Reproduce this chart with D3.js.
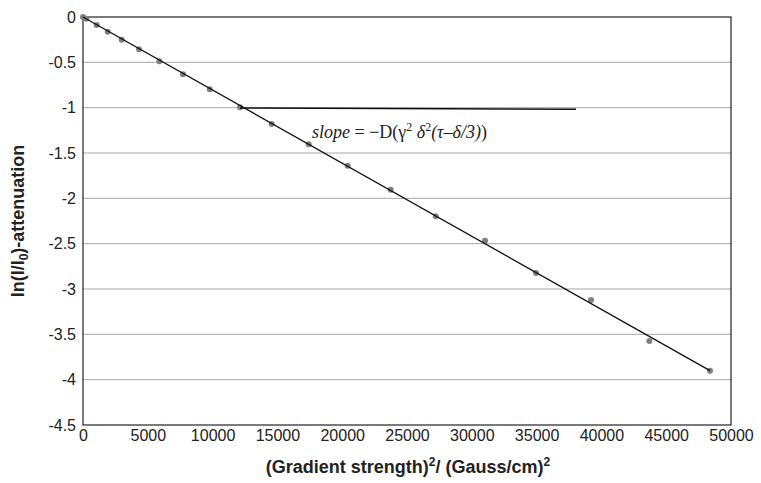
<!DOCTYPE html>
<html><head><meta charset="utf-8">
<script src="https://cdn.jsdelivr.net/npm/d3@7"></script>
<style>body{margin:0;background:#fff}svg{display:block}</style>
</head><body>
<svg id="c" width="761" height="483"></svg>
<script>
const gradX = [0, 250, 1057, 1906, 2986, 4321, 5887, 7716, 9776, 12114, 14560, 17415, 20424, 23740, 27214, 31019, 34954, 39198, 43700, 48380];
const lnAtt = [0, -0.02, -0.088, -0.162, -0.250, -0.356, -0.488, -0.632, -0.797, -0.996, -1.180, -1.404, -1.640, -1.905, -2.198, -2.467, -2.824, -3.121, -3.574, -3.901];
const fitX = [0, 48380];
const fitY = [0, -3.90];
const annX = [12114, 38040];
const annY = [-1.003, -1.018];
const xTicks = [0, 5000, 10000, 15000, 20000, 25000, 30000, 35000, 40000, 45000, 50000];
const yTicks = [0, -0.5, -1, -1.5, -2, -2.5, -3, -3.5, -4, -4.5];

const svg = d3.select("#c");
const L = 83, R = 731, T = 17, B = 425;
const x = d3.scaleLinear().domain([0, 50000]).range([L, R]);
const y = d3.scaleLinear().domain([0, -4.5]).range([T, B]);

// gridlines
svg.append("g").selectAll("line").data(yTicks.slice(1, -1)).join("line")
  .attr("x1", L).attr("x2", R).attr("y1", d => y(d)).attr("y2", d => y(d))
  .attr("stroke", "#a8a8a8").attr("stroke-width", 1);

// border
svg.append("rect").attr("x", L).attr("y", T).attr("width", R - L).attr("height", B - T)
  .attr("fill", "none").attr("stroke", "#222").attr("stroke-width", 1.2);

// axes
const yAx = svg.append("g").attr("transform", `translate(${L},0)`)
  .call(d3.axisLeft(y).tickValues(yTicks).tickSize(0).tickPadding(7).tickFormat(d => d3.format("")(d).replace("−", "-")));
yAx.select(".domain").remove();
yAx.selectAll("text").attr("font-family", "Liberation Sans, Arial, sans-serif").attr("font-size", 16).attr("fill", "#222");

const xAx = svg.append("g").attr("transform", `translate(0,${B})`)
  .call(d3.axisBottom(x).tickValues(xTicks).tickSize(0).tickPadding(5).tickFormat(d3.format("d")));
xAx.select(".domain").remove();
xAx.selectAll("text").attr("font-family", "Liberation Sans, Arial, sans-serif").attr("font-size", 16).attr("fill", "#222");

// points
svg.append("g").selectAll("circle").data(gradX.map((d, i) => [d, lnAtt[i]])).join("circle")
  .attr("cx", d => x(d[0])).attr("cy", d => y(d[1])).attr("r", 3).attr("fill", "#808080");

// fit line
svg.append("line").attr("x1", x(fitX[0])).attr("y1", y(fitY[0])).attr("x2", x(fitX[1])).attr("y2", y(fitY[1]))
  .attr("stroke", "#111").attr("stroke-width", 1.3);

// annotation line
svg.append("line").attr("x1", x(annX[0])).attr("y1", y(annY[0])).attr("x2", x(annX[1])).attr("y2", y(annY[1]))
  .attr("stroke", "#111").attr("stroke-width", 1.5);

// annotation text
const t = svg.append("text").attr("x", 312).attr("y", 138)
  .attr("font-family", "Liberation Serif, Times New Roman, serif").attr("font-size", 18).attr("fill", "#222");
t.append("tspan").attr("font-style", "italic").text("slope");
t.append("tspan").text(" = −D(γ");
t.append("tspan").attr("font-size", 12).attr("dy", -7).text("2");
t.append("tspan").attr("dy", 7).attr("font-style", "italic").text(" δ");
t.append("tspan").attr("font-size", 12).attr("dy", -7).text("2");
t.append("tspan").attr("dy", 7).attr("font-style", "italic").text("(τ–δ/3)");
t.append("tspan").text(")");

// axis titles
const xt = svg.append("text").attr("x", 408).attr("y", 473).attr("text-anchor", "middle")
  .attr("font-family", "Liberation Sans, Arial, sans-serif").attr("font-weight", "bold").attr("font-size", 18).attr("fill", "#222");
xt.append("tspan").text("(Gradient strength)");
xt.append("tspan").attr("font-size", 12).attr("dy", -7).text("2");
xt.append("tspan").attr("dy", 7).text("/ (Gauss/cm)");
xt.append("tspan").attr("font-size", 12).attr("dy", -7).text("2");

const yt = svg.append("text").attr("transform", "translate(24,221) rotate(-90)").attr("text-anchor", "middle")
  .attr("font-family", "Liberation Sans, Arial, sans-serif").attr("font-weight", "bold").attr("font-size", 18).attr("fill", "#222");
yt.append("tspan").text("ln(I/I");
yt.append("tspan").attr("font-size", 12).attr("dy", 4).text("0");
yt.append("tspan").attr("dy", -4).text(")-attenuation");
</script>
</body></html>
